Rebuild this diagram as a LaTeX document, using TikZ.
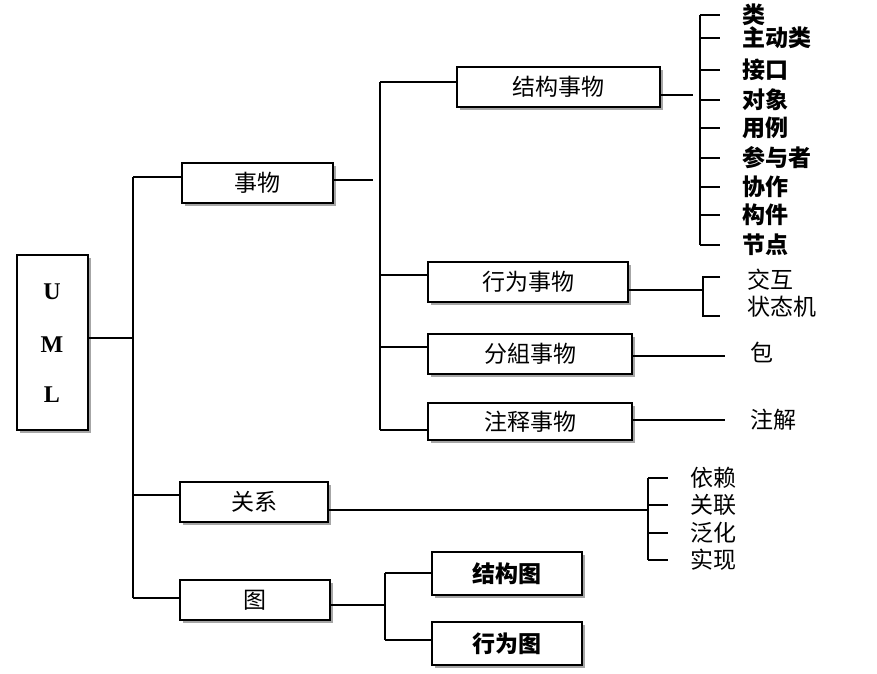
\documentclass[tikz,border=0pt]{standalone}
\usepackage{fontspec}
\setmainfont{Noto Sans CJK SC}
\newfontfamily\umlfont{Liberation Serif}
\usetikzlibrary{shadows}
\begin{document}
\begin{tikzpicture}[x=1pt,y=-1pt,line width=1.6pt,
  bx/.style={draw,fill=white,minimum height=40pt,inner sep=0pt,font=\fontsize{23}{26}\selectfont,
    drop shadow={shadow xshift=3pt,shadow yshift=-3pt,fill=gray!70,opacity=1}},
  lf/.style={anchor=west,inner sep=0pt,font=\fontsize{23}{26}\selectfont},
  lb/.style={lf,font=\fontsize{23}{26}\selectfont\bfseries}]
\useasboundingbox (0,0) rectangle (877,673);
% boxes
\node[bx,minimum width=71pt,minimum height=175pt] (uml) at (52.5,342.5) {};
\node[font=\umlfont\bfseries\fontsize{24}{26}\selectfont] (u) at (52,292) {U};
\node[font=\umlfont\bfseries\fontsize{24}{26}\selectfont] (m) at (52,345) {M};
\node[font=\umlfont\bfseries\fontsize{24}{26}\selectfont] (l) at (52,395) {L};
\node[bx,minimum width=151pt] (sw) at (257.5,183) {事物};
\node[bx,minimum width=148pt] (gx) at (254,502) {关系};
\node[bx,minimum width=150pt] (tu) at (255,600) {图};
\node[bx,minimum width=203pt] (jg) at (558.5,87) {结构事物};
\node[bx,minimum width=200pt] (xw) at (528,282) {行为事物};
\node[bx,minimum width=204pt] (fz) at (530,354) {分組事物};
\node[bx,minimum width=204pt,minimum height=37pt] (zs) at (530,421.5) {注释事物};
\node[bx,minimum width=150pt,minimum height=43pt,font=\fontsize{23}{26}\selectfont\bfseries] (jgt) at (507,573.5) {结构图};
\node[bx,minimum width=150pt,minimum height=43pt,font=\fontsize{23}{26}\selectfont\bfseries] (xwt) at (507,643.5) {行为图};
% trunk
\coordinate (t1) at (133,177); \coordinate (t2) at (133,598);
\draw (t1) -- (t2);
\draw (uml.east |- 0,338) -- (133,338);
\draw (t1) -- (sw.west |- t1);
\draw (133,495) -- (gx.west |- 0,495);
\draw (133,598) -- (tu.west |- 0,598);
% things
\coordinate (v1) at (380,82); \coordinate (v2) at (380,430);
\draw (sw.east |- 0,180) -- (373,180);
\draw (v1) -- (v2);
\draw (v1) -- (jg.west |- v1);
\draw (380,275) -- (xw.west |- 0,275);
\draw (380,347) -- (fz.west |- 0,347);
\draw (380,430) -- (zs.west |- 0,430);
% structural leaves
\draw (jg.east |- 0,95) -- (693,95);
\draw (700,15) -- (700,245);
\foreach \y/\t [count=\i] in {15/类,38/主动类,70/接口,100/对象,128/用例,158/参与者,187/协作,215/构件,245/节点}{
  \draw (700,\y) -- (720,\y);
  \node[lb] (s\i) at (742,\y) {\t};
}
% behaviour leaves
\draw (xw.east |- 0,290) -- (703,290);
\draw (720,277) -- (703,277) -- (703,316) -- (720,316);
\node[lf] (b1) at (747,280) {交互};
\node[lf] (b2) at (747,307) {状态机};
\draw (fz.east |- 0,356) -- (725,356);
\node[lf] (p) at (750,352) {包};
\draw (zs.east |- 0,420) -- (725,420);
\node[lf] (n) at (750,420) {注解};
% relations
\draw (gx.east |- 0,510) -- (648,510);
\draw (648,478) -- (648,560);
\foreach \y/\t [count=\i] in {478/依赖,505/关联,533/泛化,560/实现}{
  \draw (648,\y) -- (668,\y);
  \node[lf] (r\i) at (690,\y) {\t};
}
% diagrams
\draw (tu.east |- 0,605) -- (385,605);
\draw (385,573) -- (385,640);
\draw (385,573) -- (jgt.west |- 0,573);
\draw (385,640) -- (xwt.west |- 0,640);
\end{tikzpicture}
\end{document}
